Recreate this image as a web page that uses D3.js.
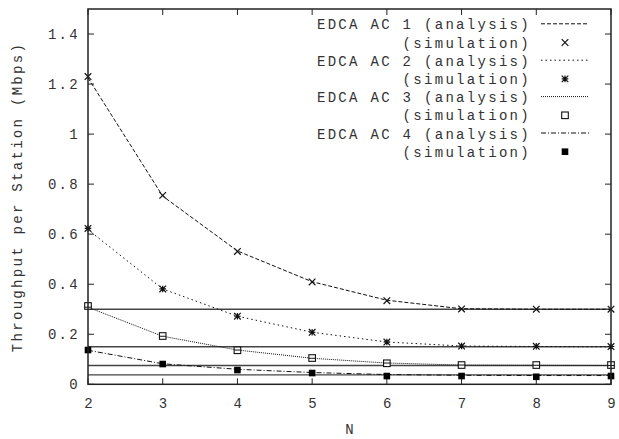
<!DOCTYPE html>
<html>
<head>
<meta charset="utf-8">
<script src="https://cdn.jsdelivr.net/npm/d3@7"></script>
<style>
  body { margin: 0; background: #fff; }
  text { font-family: "Liberation Mono", "DejaVu Sans Mono", monospace; font-size: 14px; letter-spacing: 2.3px; fill: #333; }
</style>
</head>
<body>
<div id="chart"></div>
<script>
// N (number of stations)
const stations = [2, 3, 4, 5, 6, 7, 8, 9];

// analysis curves, Mbps per station
const ac1Analysis = [1.225, 0.752, 0.533, 0.410, 0.336, 0.302, 0.300, 0.300];
const ac2Analysis = [0.618, 0.381, 0.272, 0.208, 0.169, 0.153, 0.151, 0.150];
const ac3Analysis = [0.308, 0.192, 0.137, 0.104, 0.085, 0.077, 0.076, 0.075];
const ac4Analysis = [0.136, 0.082, 0.060, 0.047, 0.039, 0.036, 0.035, 0.035];

// simulation points
const ac1Sim = [1.23, 0.755, 0.531, 0.409, 0.334, 0.301, 0.300, 0.300];
const ac2Sim = [0.623, 0.381, 0.272, 0.208, 0.169, 0.153, 0.152, 0.151];
const ac3Sim = [0.313, 0.193, 0.136, 0.105, 0.084, 0.077, 0.077, 0.077];
const ac4Sim = [0.137, 0.081, 0.057, 0.045, 0.033, 0.033, 0.030, 0.033];

// horizontal reference levels
const limits = [0.3, 0.15, 0.075, 0.0375];

const yTicks = [0, 0.2, 0.4, 0.6, 0.8, 1, 1.2, 1.4];
const xTicks = [2, 3, 4, 5, 6, 7, 8, 9];

const series = [
  { name: "EDCA AC 1", analysis: ac1Analysis, sim: ac1Sim, dash: "4,2", marker: "cross" },
  { name: "EDCA AC 2", analysis: ac2Analysis, sim: ac2Sim, dash: "1.5,3", marker: "star" },
  { name: "EDCA AC 3", analysis: ac3Analysis, sim: ac3Sim, dash: "1,1", marker: "box" },
  { name: "EDCA AC 4", analysis: ac4Analysis, sim: ac4Sim, dash: "5,2,1,2", marker: "fbox" }
];

const W = 619, H = 439;
const margin = { top: 9, right: 8, bottom: 55, left: 88 };

const svg = d3.select("#chart").append("svg")
  .attr("width", W)
  .attr("height", H);

const x = d3.scaleLinear().domain([2, 9]).range([margin.left, W - margin.right]);
const y = d3.scaleLinear().domain([0, 1.5]).range([H - margin.bottom + 0.3, margin.top]);

const x0 = x.range()[0], x1 = x.range()[1];
const y0 = y.range()[0], y1 = y.range()[1];
const tickLen = 6;

// ticks, inward, mirrored on all sides
const ticks = svg.append("g").attr("stroke", "#222").attr("stroke-width", 1);
yTicks.forEach(t => {
  ticks.append("line").attr("x1", x0).attr("x2", x0 + tickLen).attr("y1", y(t)).attr("y2", y(t));
  ticks.append("line").attr("x1", x1).attr("x2", x1 - tickLen).attr("y1", y(t)).attr("y2", y(t));
  svg.append("text")
    .attr("x", x0 - 8)
    .attr("y", y(t) + 5)
    .attr("text-anchor", "end")
    .text(t);
});
xTicks.forEach(t => {
  ticks.append("line").attr("x1", x(t)).attr("x2", x(t)).attr("y1", y0).attr("y2", y0 - tickLen);
  ticks.append("line").attr("x1", x(t)).attr("x2", x(t)).attr("y1", y1).attr("y2", y1 + tickLen);
  svg.append("text")
    .attr("x", x(t) + 1.5)
    .attr("y", y0 + 24)
    .attr("text-anchor", "middle")
    .text(t);
});

// horizontal limit lines
svg.append("g").selectAll("line")
  .data(limits)
  .join("line")
  .attr("x1", x0).attr("x2", x1)
  .attr("y1", d => y(d)).attr("y2", d => y(d))
  .attr("stroke", "#444")
  .attr("stroke-width", 1.4);

// marker drawing
function drawMarker(g, type, cx, cy) {
  const s = 3.3;
  if (type === "cross") {
    g.append("path")
      .attr("d", `M${cx - s},${cy - s}L${cx + s},${cy + s}M${cx - s},${cy + s}L${cx + s},${cy - s}`)
      .attr("stroke", "#111").attr("stroke-width", 1.2).attr("fill", "none");
  } else if (type === "star") {
    g.append("path")
      .attr("d", `M${cx - s},${cy - s}L${cx + s},${cy + s}M${cx - s},${cy + s}L${cx + s},${cy - s}M${cx - s},${cy}L${cx + s},${cy}M${cx},${cy - s}L${cx},${cy + s}`)
      .attr("stroke", "#111").attr("stroke-width", 1.2).attr("fill", "none");
  } else if (type === "box") {
    g.append("rect")
      .attr("x", cx - s).attr("y", cy - s)
      .attr("width", 2 * s).attr("height", 2 * s)
      .attr("stroke", "#111").attr("stroke-width", 1.1).attr("fill", "#fff");
  } else {
    g.append("rect")
      .attr("x", cx - s).attr("y", cy - s)
      .attr("width", 2 * s).attr("height", 2 * s)
      .attr("fill", "#000");
  }
}

const line = d3.line()
  .x((d, i) => x(stations[i]))
  .y(d => y(d));

series.forEach(s => {
  svg.append("path")
    .datum(s.analysis)
    .attr("d", line)
    .attr("fill", "none")
    .attr("stroke", "#111")
    .attr("stroke-width", 1)
    .attr("stroke-dasharray", s.dash);
  const mg = svg.append("g");
  s.sim.forEach((v, i) => drawMarker(mg, s.marker, x(stations[i]), y(v)));
  if (s.marker === "box") {
    // curve shows through the open box
    s.sim.forEach((v, i) => {
      mg.append("line")
        .attr("x1", x(stations[i]) - 3.3).attr("x2", x(stations[i]) + 3.3)
        .attr("y1", y(s.analysis[i])).attr("y2", y(s.analysis[i]))
        .attr("stroke", "#111").attr("stroke-width", 1);
    });
  }
});

// border
svg.append("rect")
  .attr("x", x0).attr("y", y1)
  .attr("width", x1 - x0).attr("height", y0 - y1)
  .attr("fill", "none")
  .attr("stroke", "#222")
  .attr("stroke-width", 1.5);

// axis titles
svg.append("text")
  .attr("x", (x0 + x1) / 2 + 1)
  .attr("y", 434)
  .attr("text-anchor", "middle")
  .text("N");

svg.append("text")
  .attr("transform", "translate(22,197) rotate(-90)")
  .attr("text-anchor", "middle")
  .text("Throughput per Station (Mbps)");

// legend
const legend = svg.append("g");
const rowH = 18.2, base = 29.3, textEnd = 531, sx1 = 541, sx2 = 589;
series.forEach((s, k) => {
  const ya = base + (2 * k) * rowH, ys = base + (2 * k + 1) * rowH;
  legend.append("text").attr("x", textEnd).attr("y", ya).attr("text-anchor", "end")
    .text(s.name + " (analysis)");
  legend.append("line")
    .attr("x1", sx1).attr("x2", sx2).attr("y1", ya - 5.5).attr("y2", ya - 5.5)
    .attr("stroke", "#111").attr("stroke-width", 1).attr("stroke-dasharray", s.dash);
  legend.append("text").attr("x", textEnd).attr("y", ys).attr("text-anchor", "end")
    .text("(simulation)");
  drawMarker(legend, s.marker, (sx1 + sx2) / 2, ys - 5);
});
</script>
</body>
</html>
